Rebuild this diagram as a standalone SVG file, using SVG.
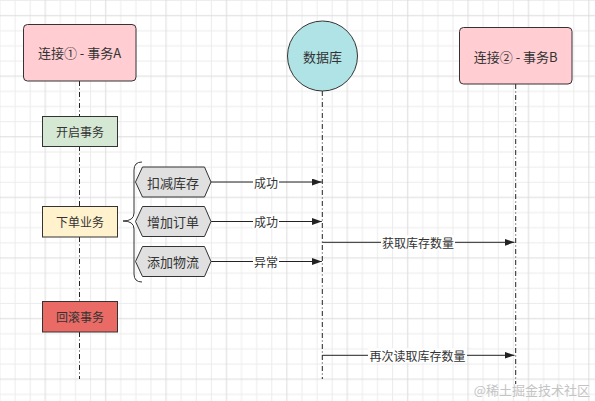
<svg xmlns="http://www.w3.org/2000/svg" width="595" height="401" viewBox="0 0 595 401">
<style>
text{font-family:"Noto Sans CJK SC","Noto Sans",sans-serif;fill:#333;text-anchor:middle;dominant-baseline:central}
.h{font-size:13px}
.s{font-size:12px}
.box{stroke:#333;stroke-width:1}
.life{stroke:#222;stroke-width:1;stroke-dasharray:5 2.5 1 2.5;fill:none}
.arr{stroke:#222;stroke-width:1;fill:none;marker-end:url(#ah)}
.lbl{fill:#fff}
.gmin{stroke:#ececec;stroke-width:1}
.gmaj{stroke:#dcdcdc;stroke-width:1}
</style>
<defs>
<pattern id="grid" patternUnits="userSpaceOnUse" x="-5" y="-5" width="60.4" height="60.6">
<line class="gmin" x1="5" y1="0" x2="5" y2="60.6"/>
<line class="gmin" x1="20.1" y1="0" x2="20.1" y2="60.6"/>
<line class="gmin" x1="35.2" y1="0" x2="35.2" y2="60.6"/>
<line class="gmin" x1="0" y1="5.35" x2="60.4" y2="5.35"/>
<line class="gmin" x1="0" y1="35.65" x2="60.4" y2="35.65"/>
<line class="gmin" x1="0" y1="50.8" x2="60.4" y2="50.8"/>
<line class="gmaj" x1="50.3" y1="0" x2="50.3" y2="60.6"/>
<line class="gmaj" x1="0" y1="20.5" x2="60.4" y2="20.5"/>
</pattern>
<marker id="ah" markerUnits="userSpaceOnUse" markerWidth="11" markerHeight="8" refX="10" refY="3.5" orient="auto">
<path d="M0,0 L10,3.5 L0,7 Z" fill="#222"/>
</marker>
</defs>
<rect width="595" height="401" fill="#fff"/>
<rect width="595" height="401" fill="url(#grid)"/>

<g id="connectors">
<path class="life" d="M79.5,81 V116 M79.5,146 V206 M79.5,237 V301 M79.5,332 V379"/>
<path class="life" d="M322.3,91 V379"/>
<path class="life" d="M515.7,84 V384"/>
<path d="M142,162 Q134,162 134,170 V213 Q134,221 123,221 Q134,221 134,229 V274 Q134,282 142,282" fill="none" stroke="#333" stroke-width="1"/>
<line class="arr" x1="211" y1="182" x2="321.8" y2="182"/>
<line class="arr" x1="211" y1="221.5" x2="321.8" y2="221.5"/>
<line class="arr" x1="211" y1="261.5" x2="321.8" y2="261.5"/>
<line class="arr" x1="322.3" y1="242.3" x2="514.5" y2="242.3"/>
<line class="arr" x1="322.3" y1="355.3" x2="514.5" y2="355.3"/>
<rect class="lbl" x="253" y="175" width="26" height="14"/>
<text class="s" x="266" y="182">成功</text>
<rect class="lbl" x="253" y="214.5" width="26" height="14"/>
<text class="s" x="266" y="221.5">成功</text>
<rect class="lbl" x="253" y="254.5" width="26" height="14"/>
<text class="s" x="266" y="261.5">异常</text>
<rect class="lbl" x="381" y="235.3" width="74" height="14"/>
<text class="s" x="418" y="242.3">获取库存数量</text>
<rect class="lbl" x="368" y="348.3" width="99" height="14"/>
<text class="s" x="417.5" y="355.3">再次读取库存数量</text>
</g>

<g id="connA">
<rect class="box" x="23.5" y="24.5" width="112.5" height="56.5" rx="4" fill="#ffcdd2"/>
<text class="h" x="79.5" y="52.5">连接① - 事务A</text>
</g>
<g id="db">
<circle class="box" cx="322.5" cy="56" r="35" fill="#b0e3e6"/>
<text class="h" x="322.5" y="56">数据库</text>
</g>
<g id="connB">
<rect class="box" x="459.5" y="27.5" width="112.5" height="56.5" rx="4" fill="#ffcdd2"/>
<text class="h" x="515.7" y="56">连接② - 事务B</text>
</g>
<g id="begin">
<rect class="box" x="42.5" y="116.5" width="75" height="30" fill="#d5e8d4"/>
<text class="s" x="80" y="131.5">开启事务</text>
</g>
<g id="order">
<rect class="box" x="42.5" y="206.5" width="75" height="30.5" fill="#fff2cc"/>
<text class="s" x="80" y="221.5">下单业务</text>
</g>
<g id="rollback">
<rect class="box" x="42.5" y="301.5" width="75" height="30.5" fill="#ea6b66"/>
<text class="s" x="80" y="316.5">回滚事务</text>
</g>
<g id="stock">
<polygon class="box" points="135.5,182 142.5,167 204.5,167 211,182 204.5,197 142.5,197" fill="#e0e0e0"/>
<text class="h" x="173" y="182">扣减库存</text>
</g>
<g id="addorder">
<polygon class="box" points="135.5,221.5 142.5,206.5 204.5,206.5 211,221.5 204.5,236.5 142.5,236.5" fill="#e0e0e0"/>
<text class="h" x="173" y="221.5">增加订单</text>
</g>
<g id="logistics">
<polygon class="box" points="135.5,261.5 142.5,246.5 204.5,246.5 211,261.5 204.5,276.5 142.5,276.5" fill="#e0e0e0"/>
<text class="h" x="173" y="261.5">添加物流</text>
</g>
<text x="590" y="389" style="font-size:13px;fill:#c4c4c4;text-anchor:end">@稀土掘金技术社区</text>
</svg>
